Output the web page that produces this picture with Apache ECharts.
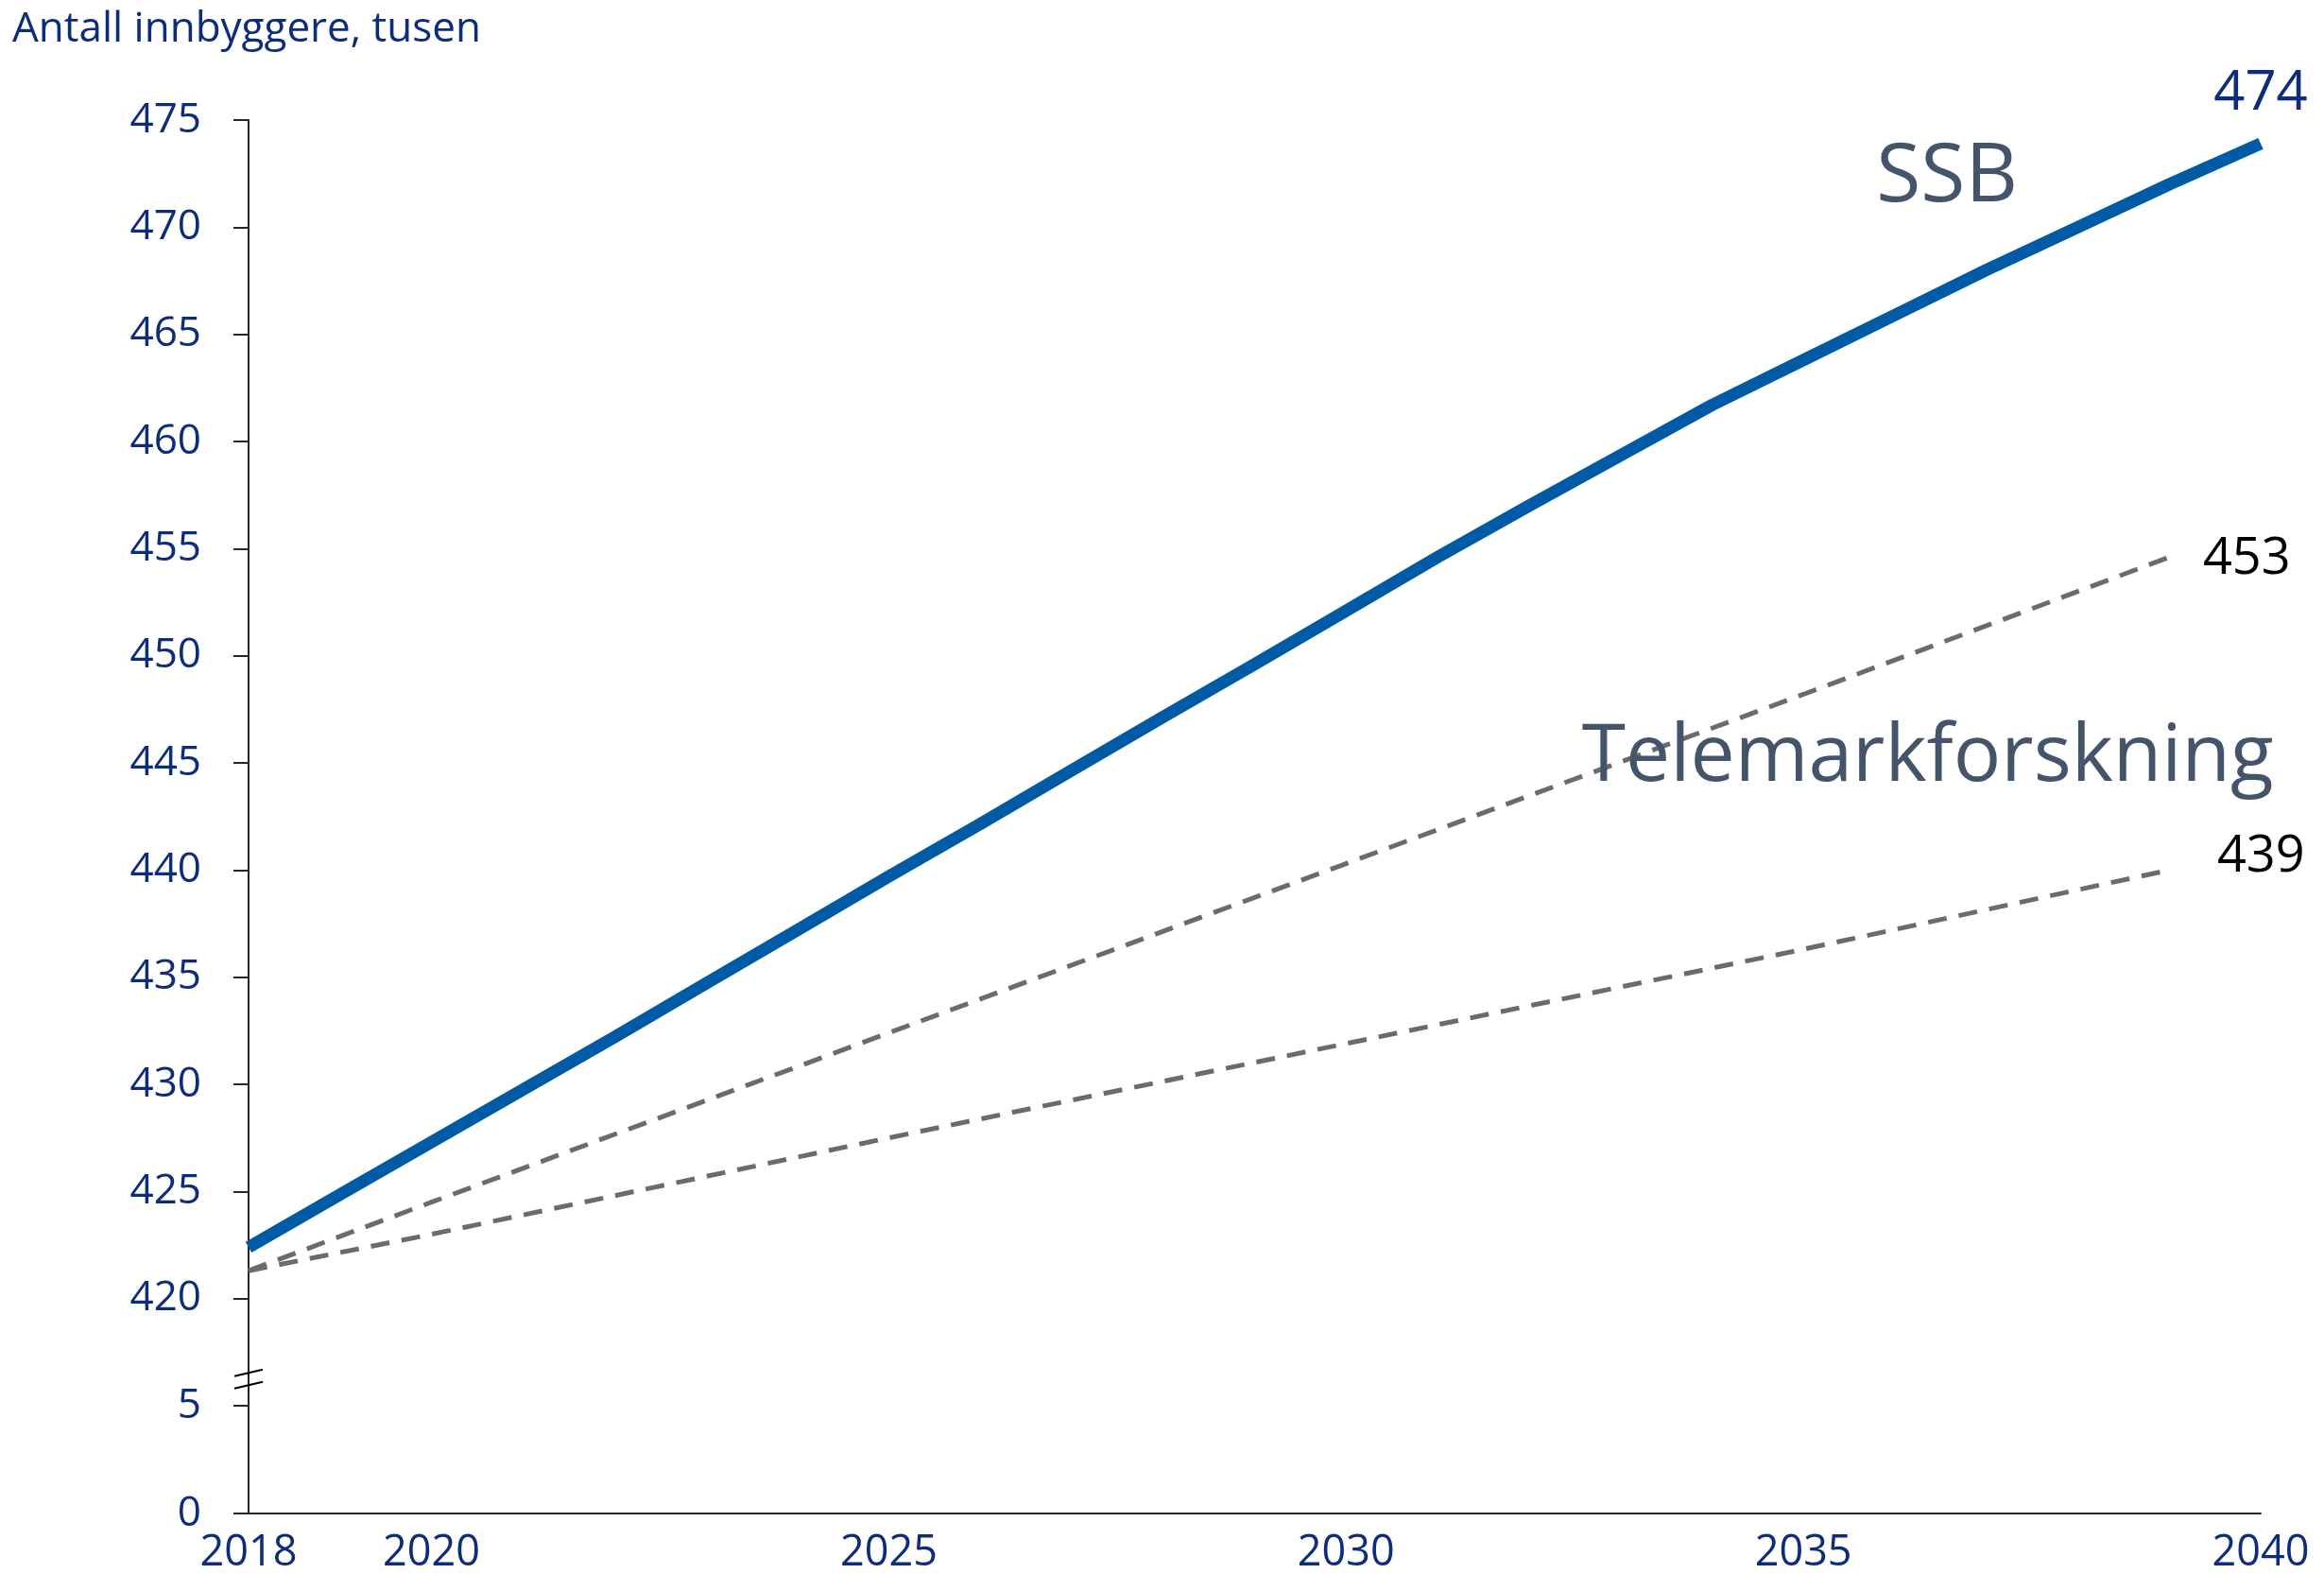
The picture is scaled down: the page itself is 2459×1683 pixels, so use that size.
<!DOCTYPE html>
<html><head><meta charset="utf-8">
<script src="https://cdn.jsdelivr.net/npm/echarts@6/dist/echarts.min.js"></script>
<style>html,body{margin:0;padding:0;background:#fff}#chart{width:2459px;height:1683px}</style>
</head><body><div id="chart"></div>
<script>
// ---- data ----
const yAxisTitle = 'Antall innbyggere, tusen';
const years = [2018,2019,2020,2021,2022,2023,2024,2025,2026,2027,2028,2029,2030,2031,2032,2033,2034,2035,2036,2037,2038,2039,2040];
const ssbValues = [422.4,424.85,427.3,429.75,432.2,434.7,437.2,439.7,442.15,444.65,447.15,449.6,452.1,454.6,457.0,459.35,461.7,463.8,465.9,468.0,470.0,472.0,473.9];
const tfYears = [2018,2020,2025,2030,2035,2039];
const tfHigh = [421.3,424.5,432.4,440.3,448.2,454.6];
const tfLow = [421.3,423.0,427.5,431.9,436.3,440.0];
const xLabelYears = [2018,2020,2025,2030,2035,2040];
const upperAxisMin = 415, upperAxisMax = 475, lowerAxisMin = 0, lowerAxisMax = 5, tickStep = 5;
const endLabelSSB = '474', endLabelHigh = '453', endLabelLow = '439';
const nameSSB = 'SSB', nameTF = 'Telemarkforskning';

const FONT = 'Open Sans';
const NAVY = '#0d2c79';
const chart = echarts.init(document.getElementById('chart'));
const pairs = (xs, ys) => xs.map((x, i) => [x, ys[i]]);
const textPoint = (coord, text, size, color, offset) => ({
  coord, symbol: 'circle', symbolSize: 1, itemStyle: {color: 'rgba(0,0,0,0)'},
  label: {show: true, position: 'inside', formatter: text, fontFamily: FONT, fontSize: size, color, offset}
});

const option = {
  animation: false,
  backgroundColor: '#fff',
  title: {text: yAxisTitle, left: 8, top: 4, textStyle: {fontFamily: FONT, fontSize: 44, fontWeight: 'normal', color: NAVY}},
  grid: [
    {left: 263, right: 67, top: 127, height: 1360},
    {left: 263, right: 67, top: 1487, height: 114}
  ],
  xAxis: [
    {type: 'value', gridIndex: 0, min: 2018, max: 2040, show: false},
    {type: 'value', gridIndex: 1, min: 2018, max: 2040,
     axisLine: {show: true, onZero: false, lineStyle: {color: '#262626', width: 2}},
     axisTick: {show: false}, splitLine: {show: false},
     axisLabel: {customValues: xLabelYears, fontFamily: FONT, fontSize: 45, color: NAVY, margin: 20, formatter: v => String(v)}}
  ],
  yAxis: [
    {type: 'value', gridIndex: 0, min: upperAxisMin, max: upperAxisMax, interval: tickStep,
     axisLine: {show: true, onZero: false, lineStyle: {color: '#262626', width: 2}},
     axisTick: {show: true, length: 16, lineStyle: {color: '#262626', width: 2}},
     splitLine: {show: false},
     axisLabel: {fontFamily: FONT, fontSize: 44, color: NAVY, margin: 50, hideOverlap: false,
       formatter: v => (v === upperAxisMin ? '' : String(v))}},
    {type: 'value', gridIndex: 1, min: lowerAxisMin, max: lowerAxisMax, interval: tickStep,
     axisLine: {show: true, onZero: false, lineStyle: {color: '#262626', width: 2}},
     axisTick: {show: true, length: 16, lineStyle: {color: '#262626', width: 2}},
     splitLine: {show: false},
     axisLabel: {fontFamily: FONT, fontSize: 44, color: NAVY, margin: 50, hideOverlap: false, showMaxLabel: true}}
  ],
  series: [
    {name: nameTF + ' høy', type: 'line', xAxisIndex: 0, yAxisIndex: 0, data: pairs(tfYears, tfHigh),
     symbol: 'none', lineStyle: {color: '#6b6b6b', width: 5, type: [20, 13]}, z: 2,
     markPoint: {data: [textPoint([tfYears[tfYears.length-1], tfHigh[tfHigh.length-1]], endLabelHigh, 54, '#000', [82, 2])]}},
    {name: nameTF + ' lav', type: 'line', xAxisIndex: 0, yAxisIndex: 0, data: pairs(tfYears, tfLow),
     symbol: 'none', lineStyle: {color: '#6b6b6b', width: 5, type: [20, 13]}, z: 2,
     markPoint: {data: [
       textPoint([tfYears[tfYears.length-1], tfLow[tfLow.length-1]], endLabelLow, 54, '#000', [97, -14]),
       textPoint([2036.36, 445.2], nameTF, 84, '#44546a', [0, 0])
     ]}},
    {name: nameSSB, type: 'line', xAxisIndex: 0, yAxisIndex: 0, data: pairs(years, ssbValues),
     symbol: 'none', lineStyle: {color: '#005ba6', width: 13, cap: 'butt'}, z: 3,
     markPoint: {data: [
       textPoint([years[years.length-1], ssbValues[ssbValues.length-1]], endLabelSSB, 58, NAVY, [0, -52]),
       textPoint([2036.57, 472.3], nameSSB, 86, '#44546a', [0, 0])
     ]}}
  ]
};
chart.setOption(option);
// axis break marks
const bp = chart.convertToPixel({gridIndex: 0}, [2018, 416.2]);
chart.setOption({graphic: [
  {type: 'line', shape: {x1: bp[0]-15, y1: bp[1]-4, x2: bp[0]+15, y2: bp[1]-11}, style: {stroke: '#000', lineWidth: 2}, z: 10},
  {type: 'line', shape: {x1: bp[0]-15, y1: bp[1]+9, x2: bp[0]+15, y2: bp[1]+2}, style: {stroke: '#000', lineWidth: 2}, z: 10}
]});
</script></body></html>
